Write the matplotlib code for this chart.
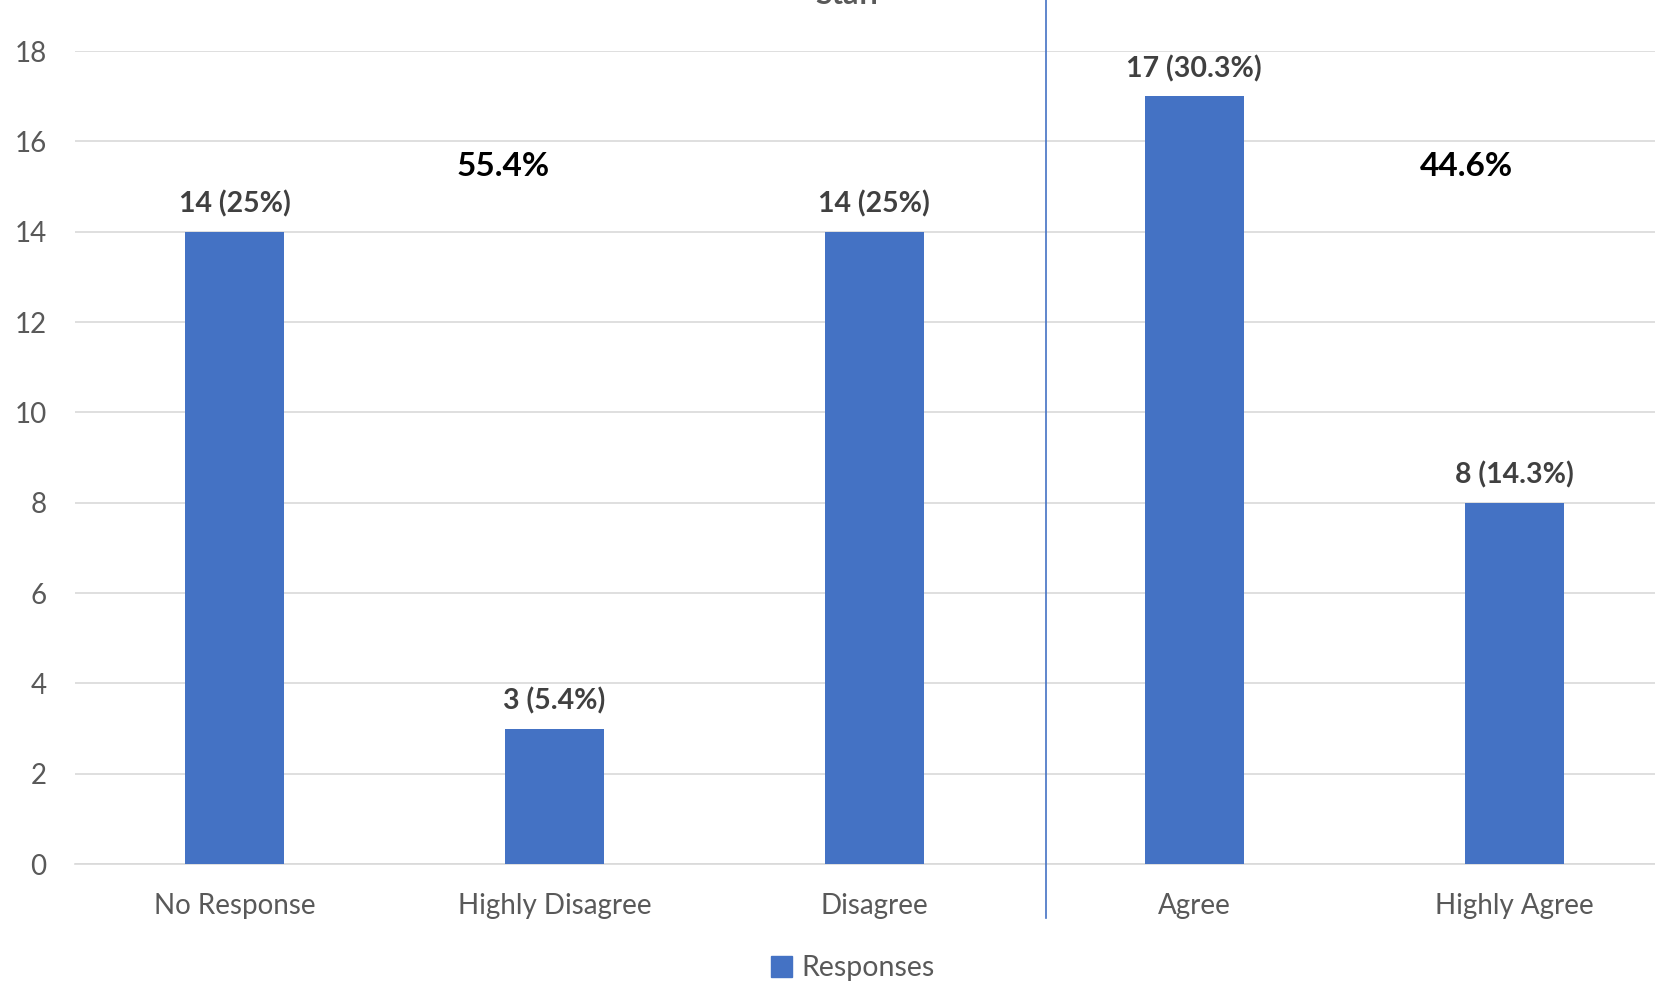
import matplotlib
matplotlib.use("Agg")
import matplotlib.pyplot as plt
from matplotlib.patches import Patch

categories = ["No Response", "Highly Disagree", "Disagree", "Agree", "Highly Agree"]
values = [14, 3, 14, 17, 8]
labels = ["14 (25%)", "3 (5.4%)", "14 (25%)", "17 (30.3%)", "8 (14.3%)"]
group_labels = ["55.4%", "44.6%"]
yticks = [0, 2, 4, 6, 8, 10, 12, 14, 16, 18]

plt.rcParams['font.family'] = ['Lato', 'DejaVu Sans']

fig = plt.figure(figsize=(16.56, 9.83), dpi=100)
ax = fig.add_axes([0.045, 0.121, 0.966, 0.827])

bar_color = "#4472C4"
x = list(range(len(categories)))
bars = ax.bar(x, values, width=0.31, color=bar_color, zorder=3)

for xi, v, lab in zip(x, values, labels):
    ax.annotate(lab, (xi, v), xytext=(0, 10), textcoords="offset points",
                ha="center", va="bottom", fontsize=20.5, fontweight="bold",
                color="#404040")

ax.text(0.84, 15.45, group_labels[0], ha="center", va="center", fontsize=24,
        fontweight="bold", color="black")
ax.text(3.85, 15.45, group_labels[1], ha="center", va="center", fontsize=24,
        fontweight="bold", color="black")

ax.set_xlim(-0.5, 4.5)
ax.set_ylim(0, 18)
ax.set_yticks(yticks)
ax.set_xticks(x)
ax.set_xticklabels(categories)
ax.grid(axis="y", color="#D9D9D9", linewidth=1.2, zorder=0)
for s in ["top", "right", "left"]:
    ax.spines[s].set_visible(False)
ax.spines["bottom"].set_color("#D9D9D9")
ax.spines["bottom"].set_linewidth(1.2)
ax.tick_params(axis="both", length=0, labelsize=20, labelcolor="#595959")
ax.tick_params(axis="y", pad=20)
ax.tick_params(axis="x", pad=21)

# divider line
ax.plot([2.535, 2.535], [-1.2, 19.4], color=bar_color, linewidth=1.2,
        clip_on=False, zorder=4)

# cut-off title
fig.text(0.512, 1 - 3.5 / 983, "Staff", ha="center", va="baseline",
         fontsize=22, fontweight="bold", color="#595959")

handles = [Patch(facecolor=bar_color, edgecolor=bar_color, label="Responses")]
fig.legend(handles=handles, loc="center", bbox_to_anchor=(0.515, 0.015),
           frameon=False, fontsize=20.5, handlelength=0.75, handleheight=0.75,
           handletextpad=0.35, labelcolor="#595959")

fig.savefig("out.png", dpi=100)
